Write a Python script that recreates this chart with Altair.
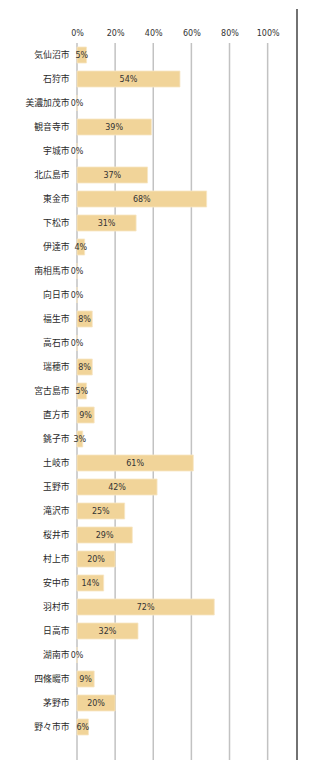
import altair as alt
import pandas as pd

cities = ["気仙沼市", "石狩市", "美濃加茂市", "観音寺市", "宇城市", "北広島市", "東金市", "下松市",
          "伊達市", "南相馬市", "向日市", "福生市", "高石市", "瑞穂市", "宮古島市", "直方市",
          "銚子市", "土岐市", "玉野市", "滝沢市", "桜井市", "村上市", "安中市", "羽村市",
          "日高市", "湖南市", "四條畷市", "茅野市", "野々市市"]
values = [5, 54, 0, 39, 0, 37, 68, 31, 4, 0, 0, 8, 0, 8, 5, 9, 3, 61, 42, 25, 29, 20, 14, 72,
          32, 0, 9, 20, 6]
ticks = [0, 20, 40, 60, 80, 100]

df = pd.DataFrame({"city": cities, "value": values})
df["label"] = df["value"].astype(str) + "%"
df["half"] = df["value"] / 2
tick_df = pd.DataFrame({"t": ticks})

W = 220
H = 696
XMAX = 115.4
TOP = 34

xscale = alt.Scale(domain=[0, XMAX], nice=False, zero=True)
yscale = alt.Scale(domain=cities, paddingInner=0.333, paddingOuter=0.1667)

xaxis = alt.Axis(orient="top", values=ticks, labelExpr="datum.value + '%'",
                 title=None, grid=False, domain=False, ticks=False, tickSize=0,
                 labelPadding=6, labelFontSize=8, labelColor="#333333", labelFlush=False,
                 labelFont="DejaVu Sans", minExtent=TOP, maxExtent=TOP)
yaxis = alt.Axis(title=None, domain=False, ticks=False, tickSize=0, labelPadding=8,
                 labelFontSize=8.8, labelColor="#2a2a2a",
                 labelFont="Noto Sans CJK JP", minExtent=69, maxExtent=69)

grid = alt.Chart(tick_df).mark_rule(color="#c2c2c2", strokeWidth=1.5).encode(
    x=alt.X("t:Q", scale=xscale, axis=xaxis, title=None),
    y=alt.value(0),
    y2=alt.value(740),
)

border = alt.Chart(tick_df).mark_rule(color="#707070", strokeWidth=1).encode(
    x=alt.value(W), y=alt.value(-TOP), y2=alt.value(740)
)

bars = alt.Chart(df).mark_bar(color="#F1D499", stroke="#F7E6C4", strokeWidth=0.8).encode(
    x=alt.X("value:Q", scale=xscale, axis=xaxis, title=None),
    y=alt.Y("city:N", scale=yscale, sort=cities, axis=yaxis, title=None),
)

text = alt.Chart(df).mark_text(fontSize=8, color="#333333", font="DejaVu Sans",
                               align="center", baseline="middle", dy=1).encode(
    x=alt.X("half:Q", scale=xscale, axis=xaxis, title=None),
    y=alt.Y("city:N", scale=yscale, sort=cities, axis=yaxis, title=None),
    text="label:N",
)

chart = alt.layer(grid, border, bars, text).properties(
    width=W, height=H, background="white",
    padding={"left": 0, "top": 0, "right": 0, "bottom": 0},
).configure_view(stroke=None, strokeWidth=0)

chart.save("out.html", embed_options={"renderer": "svg", "actions": False})
